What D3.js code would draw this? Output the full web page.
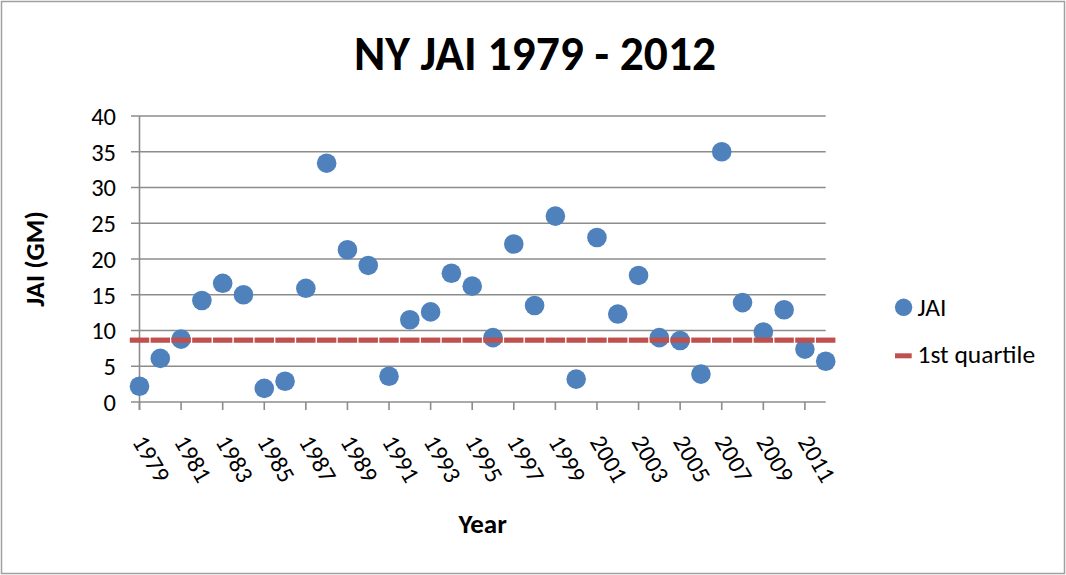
<!DOCTYPE html>
<html>
<head>
<meta charset="utf-8">
<script src="https://cdn.jsdelivr.net/npm/d3@7"></script>
<style>
  html, body { margin: 0; padding: 0; background: #fff; }
  svg { display: block; font-family: Carlito, Calibri, Lato, sans-serif; }
</style>
</head>
<body>
<svg id="chart" width="1066" height="575"></svg>
<script>
const years = d3.range(1979, 2013);
const jaiValues = [2.2, 6.1, 8.8, 14.2, 16.6, 15.0, 1.9, 2.9, 15.9, 33.4,
                   21.3, 19.1, 3.6, 11.5, 12.6, 18.0, 16.2, 9.0, 22.1, 13.5,
                   26.0, 3.2, 23.0, 12.3, 17.7, 9.0, 8.6, 3.9, 35.0, 13.9,
                   9.8, 12.9, 7.4, 5.7];
const firstQuartile = years.map(() => 8.65);
const yTicks = [0, 5, 10, 15, 20, 25, 30, 35, 40];
const xTickYears = d3.range(1979, 2012, 2);
const titleText = "NY JAI 1979 - 2012";
const xTitle = "Year";
const yTitle = "JAI (GM)";
const seriesNames = ["JAI", "1st quartile"];

const blue = "#4F81BD", red = "#C0504D", grid = "#8C8C8C";
const svg = d3.select("#chart");

svg.append("rect").attr("x", 1.5).attr("y", 1.5).attr("width", 1063).attr("height", 572)
  .attr("fill", "#fff").attr("stroke", "#A0A0A0").attr("stroke-width", 1.5);

const x = d3.scalePoint().domain(years).range([139.5, 825.7]).padding(0);
const y = d3.scaleLinear().domain([0, 40]).range([402, 116]);

const tickFont = 24.5;

// gridlines + y ticks
const yAxis = d3.axisLeft(y).tickValues(yTicks).tickSize(0).tickPadding(0).tickFormat(d3.format("d"));
const gy = svg.append("g");
gy.selectAll("line.grid").data(yTicks).join("line")
  .attr("x1", 131).attr("x2", 825.7)
  .attr("y1", d => y(d)).attr("y2", d => y(d))
  .attr("stroke", grid).attr("stroke-width", 1.6);
gy.selectAll("text.ytick").data(yTicks).join("text")
  .attr("x", 116).attr("y", d => y(d)).attr("dy", "0.36em")
  .attr("text-anchor", "end").attr("font-size", tickFont).attr("fill", "#000")
  .text(d => yAxis.tickFormat()(d));

// y axis line
svg.append("line").attr("x1", x(1979)).attr("x2", x(1979)).attr("y1", y(40)).attr("y2", 410)
  .attr("stroke", grid).attr("stroke-width", 1.6);

// x ticks
svg.selectAll("line.xtick").data(xTickYears).join("line")
  .attr("x1", d => x(d)).attr("x2", d => x(d)).attr("y1", y(0)).attr("y2", 410)
  .attr("stroke", grid).attr("stroke-width", 1.6);
svg.selectAll("text.xtick").data(xTickYears).join("text")
  .attr("transform", d => `translate(${x(d)},437) rotate(60)`)
  .attr("dy", "0.36em").attr("text-anchor", "start").attr("font-size", tickFont).attr("fill", "#000")
  .text(d => d);

// JAI points
const r = 9.8;
svg.selectAll("circle.jai").data(years).join("circle")
  .attr("cx", d => x(d)).attr("cy", (d, i) => y(jaiValues[i])).attr("r", r)
  .attr("fill", blue);

// 1st quartile dash markers
const step = x.step();
svg.selectAll("rect.q").data(years).join("rect")
  .attr("x", d => x(d) - (step - 1.4) / 2).attr("width", step - 1.4)
  .attr("y", (d, i) => y(firstQuartile[i]) - 2.6).attr("height", 5.2)
  .attr("fill", red);

// titles
svg.append("text").attr("x", 535).attr("y", 70).attr("text-anchor", "middle")
  .attr("font-size", 47.5).attr("font-weight", "bold").text(titleText);
svg.append("text").attr("x", 482.6).attr("y", 533).attr("text-anchor", "middle")
  .attr("font-size", 27).attr("font-weight", "bold").text(xTitle);
svg.append("text").attr("transform", `translate(34,${y(20)}) rotate(-90)`)
  .attr("dy", "0.36em").attr("text-anchor", "middle")
  .attr("font-size", 27).attr("font-weight", "bold").text(yTitle);

// legend
const lg = svg.append("g");
lg.append("circle").attr("cx", 903.6).attr("cy", 307.3).attr("r", 8.7).attr("fill", blue);
lg.append("rect").attr("x", 895).attr("y", 353.3).attr("width", 16.7).attr("height", 5).attr("fill", red);
lg.append("text").attr("x", 917.5).attr("y", 316).attr("font-size", 25.5).text(seriesNames[0]);
lg.append("text").attr("x", 917.5).attr("y", 363).attr("font-size", 25.5).text(seriesNames[1]);
</script>
</body>
</html>
